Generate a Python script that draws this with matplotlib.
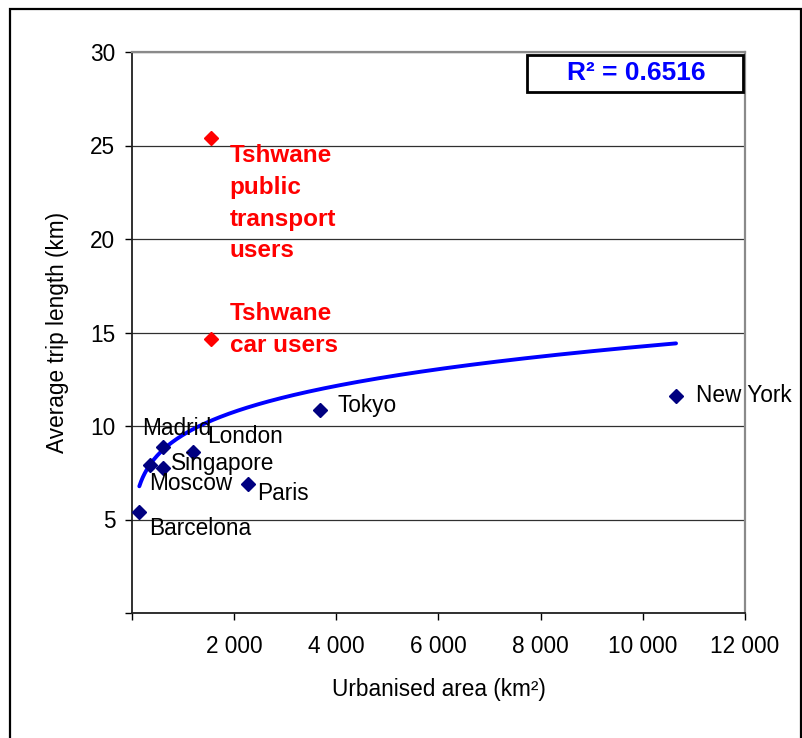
import matplotlib
matplotlib.use("Agg")
import matplotlib.pyplot as plt
import numpy as np
from matplotlib.patches import Rectangle
from matplotlib.ticker import FuncFormatter

plt.rcParams['font.family'] = ['Liberation Sans', 'DejaVu Sans']

# --- data -------------------------------------------------------------
cities = ["Barcelona", "Moscow", "Madrid", "Singapore", "London", "Paris", "Tokyo", "New York"]
city_area = [143, 352, 613, 613, 1200, 2265, 3680, 10650]       # km²
city_trip = [5.42, 7.91, 8.89, 7.74, 8.63, 6.88, 10.85, 11.6]   # km

tshwane_labels = ["Tshwane\npublic\ntransport\nusers", "Tshwane\ncar users"]
tshwane_area = [1540, 1540]
tshwane_trip = [25.38, 14.64]

# power trend line  y = a * x^b
trend_a = 2.84
trend_b = 0.1752
r_squared = 0.6516

x_ticks = [0, 2000, 4000, 6000, 8000, 10000, 12000]
y_ticks = [0, 5, 10, 15, 20, 25, 30]

# --- label placement (pixel offsets from marker to text baseline start) ---
city_offsets = {
    "Barcelona": (10, -23),
    "Moscow": (-1, -25),
    "Madrid": (-21, 12),
    "Singapore": (8, -2),
    "London": (14, 9),
    "Paris": (9, -16),
    "Tokyo": (18, -2),
    "New York": (20, -6),
}
# offsets to the baseline of the last line of each multi-line label
tshwane_offsets = [(19, -119), (19, -13)]

W, H, DPI = 803, 738, 100
FS = 16.3

fig = plt.figure(figsize=(W / DPI, H / DPI), dpi=DPI)
left, right, top, bottom = 132, 745, 52, 613
ax = fig.add_axes([left / W, (H - bottom) / H, (right - left) / W, (bottom - top) / H])

# outer frame
fig.patches.append(Rectangle((10 / W, -0.05), (801 - 10) / W, (H - 9) / H + 0.05,
                             transform=fig.transFigure, fill=False,
                             edgecolor='black', linewidth=1.6, zorder=0))

ax.set_xlim(0, 12000)
ax.set_ylim(0, 30)
ax.set_xticks(x_ticks)
ax.set_yticks(y_ticks)

def thousands(v, pos):
    if v == 0:
        return ""
    return f"{int(v):,}".replace(",", " ")

def plain(v, pos):
    if v == 0:
        return ""
    return f"{int(v)}"

ax.xaxis.set_major_formatter(FuncFormatter(thousands))
ax.yaxis.set_major_formatter(FuncFormatter(plain))
ax.tick_params(axis='both', direction='out', length=5, width=1, color='black',
               labelsize=FS, labelcolor='black')
ax.tick_params(axis='x', pad=11)
ax.tick_params(axis='y', pad=7)

ax.yaxis.grid(True, color='#303030', linewidth=0.9)
ax.set_axisbelow(True)

for s in ('left', 'bottom'):
    ax.spines[s].set_color('#202020')
    ax.spines[s].set_linewidth(1.3)
for s in ('top', 'right'):
    ax.spines[s].set_color('#8a8a8a')
    ax.spines[s].set_linewidth(1.6)

# trend line
tx = np.linspace(min(city_area), max(city_area), 300)
ax.plot(tx, trend_a * tx ** trend_b, color='#0000ff', linewidth=2.8, zorder=3,
        solid_capstyle='round')

# city points
ax.plot(city_area, city_trip, linestyle='none', marker='D', markersize=7.5,
        color='#000080', zorder=4)
for name, xv, yv in zip(cities, city_area, city_trip):
    ax.annotate(name, (xv, yv), xytext=city_offsets[name], textcoords='offset pixels',
                ha='left', va='baseline', fontsize=FS, color='black', zorder=5,
                annotation_clip=False)

# Tshwane points
ax.plot(tshwane_area, tshwane_trip, linestyle='none', marker='D', markersize=7.5,
        color='#ff0000', zorder=4)
for lab, xv, yv, off in zip(tshwane_labels, tshwane_area, tshwane_trip, tshwane_offsets):
    ax.annotate(lab, (xv, yv), xytext=off, textcoords='offset pixels',
                ha='left', va='baseline', fontsize=17.5, fontweight='bold',
                color='#ff0000', linespacing=1.49, zorder=5)

# R² box
bx0, bx1, by0, by1 = 527, 743, 55, 92
fig.patches.append(Rectangle((bx0 / W, (H - by1) / H), (bx1 - bx0) / W, (by1 - by0) / H,
                             transform=fig.transFigure, facecolor='white',
                             edgecolor='black', linewidth=2, zorder=5))
fig.text((bx0 + bx1) / 2 / W + 0.002, (H - (by0 + by1) / 2) / H, f"R² = {r_squared}",
         ha='center', va='center', fontsize=19, fontweight='bold', color='#0000ff',
         zorder=6)

ax.set_xlabel("Urbanised area (km²)", fontsize=FS, labelpad=14)
ax.set_ylabel("Average trip length (km)", fontsize=FS, labelpad=15)

fig.savefig("out.png", dpi=DPI)
